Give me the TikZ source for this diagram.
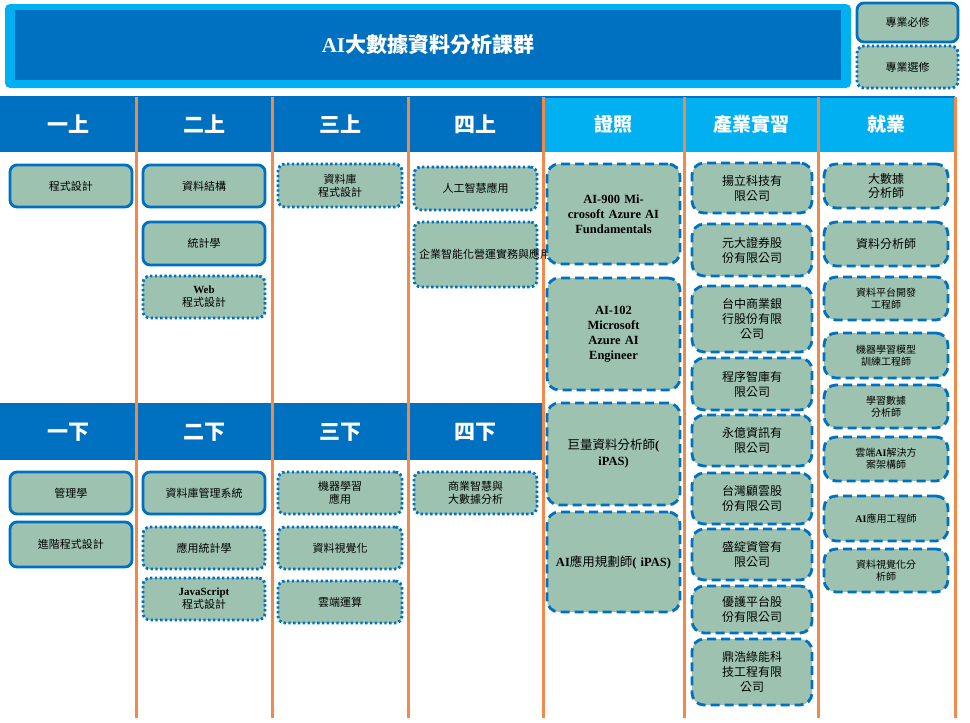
\documentclass[tikz,border=0pt]{standalone}
\usepackage{fontspec}
\setmainfont{Liberation Serif}
\newfontfamily\cjk{Noto Sans CJK TC}
\definecolor{dblue}{HTML}{0070C0}
\definecolor{cyanb}{HTML}{00B0F0}
\definecolor{boxfill}{HTML}{9DC3B0}
\definecolor{orng}{HTML}{F0894A}
\tikzset{
 base/.style={draw=dblue,fill=boxfill,line width=2.8pt,rounded corners=7pt,inner sep=1pt,font=\cjk\fontsize{11}{13}\selectfont},
 req/.style={base},
 opt/.style={base,dash pattern=on 2.4pt off 2.4pt},
 dsh/.style={base,dash pattern=on 9pt off 5pt,rounded corners=12pt},
 hdr/.style={fill=dblue,text=white,inner sep=0pt,font=\cjk\bfseries\fontsize{21}{24}\selectfont},
 hdc/.style={fill=cyanb,text=white,inner sep=0pt,font=\cjk\bfseries\fontsize{19}{22}\selectfont},
}
\newcommand\bx[7]{\node[#6,minimum width={(#4-#2)*1pt},minimum height={(#5-#3)*1pt},text width={(#4-#2-10)*1pt},align=center] (#1) at ({(#2+#4)/2},{-(#3+#5)/2}) {#7};}
\newcommand\hd[6]{\node[#6,minimum width={(#3-#2)*1pt},minimum height={(#5-#4)*1pt}] (#1) at ({(#2+#3)/2},{-(#4+#5)/2}) {#1x};}
\newcommand\lat[1]{{\rmfamily\bfseries #1}}
\begin{document}
\begin{tikzpicture}[x=1pt,y=1pt]
\useasboundingbox (0,0) rectangle (970,-723);
% title
\node[fill=cyanb,rounded corners=5pt,minimum width=846pt,minimum height=84pt] (tout) at (428,-46) {};
\node[fill=dblue,minimum width=826pt,minimum height=70pt,text=white,font=\cjk\bfseries\fontsize{21}{24}\selectfont] (title) at (428,-45) {\lat{AI}大數據資料分析課群};
\bx{lg1}{857}{3}{958}{42}{req}{專業必修}
\bx{lg2}{857}{46}{958}{88}{opt}{專業選修}
% headers
\node[hdr,minimum width=136pt,minimum height=55pt] (h1) at (68,-124.5) {一上};
\node[hdr,minimum width=136pt,minimum height=55pt] (h2) at (204,-124.5) {二上};
\node[hdr,minimum width=136pt,minimum height=55pt] (h3) at (340,-124.5) {三上};
\node[hdr,minimum width=135pt,minimum height=55pt] (h4) at (475.5,-124.5) {四上};
\node[hdc,minimum width=141pt,minimum height=55pt] (h5) at (613.5,-124.5) {證照};
\node[hdc,minimum width=134pt,minimum height=55pt] (h6) at (751,-124.5) {產業實習};
\node[hdc,minimum width=137pt,minimum height=55pt] (h7) at (886.5,-124.5) {就業};
\node[hdr,minimum width=136pt,minimum height=56pt] (g1) at (68,-432) {一下};
\node[hdr,minimum width=136pt,minimum height=56pt] (g2) at (204,-432) {二下};
\node[hdr,minimum width=136pt,minimum height=56pt] (g3) at (340,-432) {三下};
\node[hdr,minimum width=135pt,minimum height=56pt] (g4) at (475.5,-432) {四下};
\draw[dblue,line width=2pt] (0,-97)--(955,-97);
\draw[dblue,line width=2pt] (0,-404)--(543,-404);
% orange lines
\foreach \x in {136,272,408,543,684,818,955} \draw[orng,line width=3pt] (\x,-97)--(\x,-718);
% courses
\bx{a1}{10}{165}{132}{207}{req}{程式設計}
\bx{b1}{143}{165}{265}{207}{req}{資料結構}
\bx{b2}{143}{222}{265}{265}{req}{統計學}
\bx{b3}{143}{276}{265}{318}{opt}{\lat{Web}\\程式設計}
\bx{c1}{278}{164}{402}{207}{opt}{資料庫\\程式設計}
\bx{d1}{414}{167}{537}{210}{opt}{人工智慧應用}
\bx{d2}{414}{222}{537}{287}{opt}{企業智能化營運實務與應用}
\bx{a2}{10}{472}{132}{514}{req}{管理學}
\bx{a3}{10}{522}{132}{567}{req}{進階程式設計}
\bx{b4}{143}{472}{265}{514}{req}{資料庫管理系統}
\bx{b5}{143}{527}{265}{569}{opt}{應用統計學}
\bx{b6}{143}{578}{265}{620}{opt}{\lat{JavaScript}\\程式設計}
\bx{c2}{278}{472}{402}{514}{opt}{機器學習\\應用}
\bx{c3}{278}{527}{402}{569}{opt}{資料視覺化}
\bx{c4}{278}{581}{402}{623}{opt}{雲端運算}
\bx{d3}{414}{472}{537}{514}{opt}{商業智慧與\\大數據分析}
% certificates
\tikzset{cert/.style={dsh,font=\cjk\bfseries\fontsize{12.5}{15}\selectfont}}
\bx{e1}{547}{164}{680}{264}{cert}{\lat{AI-900 Microsoft Azure AI Fundamental\-s}}
\bx{e2}{547}{278}{680}{390}{cert}{\lat{AI-102\\Microsoft\\Azure AI\\Engineer}}
\bx{e3}{547}{403}{680}{505}{dsh,font=\cjk\fontsize{12.5}{16}\selectfont}{巨量資料分析師\lat{( iPAS)}}
\bx{e4}{547}{512}{680}{612}{dsh,font=\cjk\fontsize{12.5}{16}\selectfont}{\lat{AI}應用規劃師\lat{( iPAS)}}
% internships
\tikzset{intern/.style={dsh,font=\cjk\fontsize{12}{15}\selectfont}}
\bx{f1}{692}{163}{812}{213}{intern}{揚立科技有\\限公司}
\bx{f2}{692}{224}{812}{276}{intern}{元大證券股\\份有限公司}
\bx{f3}{692}{286}{812}{352}{intern}{台中商業銀\\行股份有限\\公司}
\bx{f4}{692}{358}{812}{410}{intern}{程序智庫有\\限公司}
\bx{f5}{692}{415}{812}{466}{intern}{永億資訊有\\限公司}
\bx{f6}{692}{473}{812}{524}{intern}{台灣顧雲股\\份有限公司}
\bx{f7}{692}{529}{812}{580}{intern}{盛綻資管有\\限公司}
\bx{f8}{692}{586}{812}{633}{intern}{優護平台股\\份有限公司}
\bx{f9}{692}{639}{812}{705}{intern}{鼎浩綠能科\\技工程有限\\公司}
% jobs
\tikzset{job/.style={dsh,font=\cjk\fontsize{12}{14}\selectfont}, jobs/.style={dsh,font=\cjk\fontsize{10}{12}\selectfont}}
\bx{j1}{824}{164}{948}{208}{job}{大數據\\分析師}
\bx{j2}{824}{222}{948}{266}{job}{資料分析師}
\bx{j3}{824}{277}{948}{320}{jobs}{資料平台開發\\工程師}
\bx{j4}{824}{333}{948}{378}{jobs}{機器學習模型\\訓練工程師}
\bx{j5}{824}{385}{948}{428}{jobs}{學習數據\\分析師}
\bx{j6}{824}{437}{948}{481}{jobs}{雲端\lat{AI}解決方\\案架構師}
\bx{j7}{824}{496}{948}{541}{jobs}{\lat{AI}應用工程師}
\bx{j8}{824}{549}{948}{592}{jobs}{資料視覺化分\\析師}
\end{tikzpicture}
\end{document}
